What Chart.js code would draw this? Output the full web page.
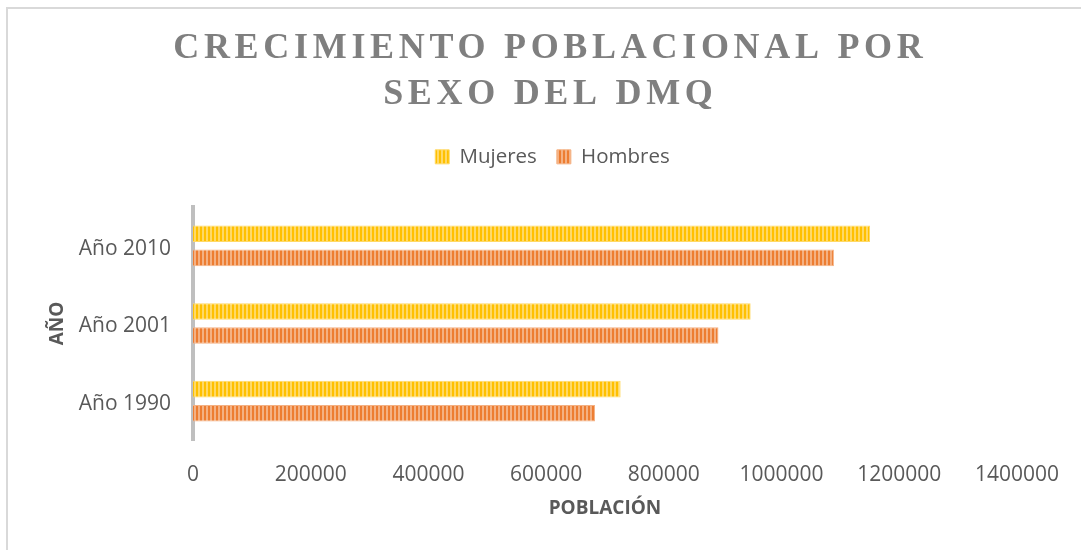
<!DOCTYPE html>
<html><head><meta charset="utf-8">
<script src="https://cdn.jsdelivr.net/npm/chart.js@4.4.1/dist/chart.umd.min.js"></script>
<style>
html,body{margin:0;padding:0;background:#fff;overflow:hidden}
#wrap{position:relative;width:1081px;height:550px}
#frame{position:absolute;left:6px;top:7px;width:1100px;height:600px;border:2px solid #d9d9d9;box-sizing:border-box}
#c{position:absolute;left:0;top:0}
</style></head><body>
<div id="wrap"><div id="frame"></div><canvas id="c" width="1081" height="550"></canvas></div>
<script>
const categories = ['Año 2010', 'Año 2001', 'Año 1990'];
const mujeres = [1150300, 947500, 726600];
const hombres = [1089000, 892800, 683000];
const seriesNames = ['Mujeres', 'Hombres'];
const xMin = 0, xMax = 1400000, xStep = 200000;
const titleLines = ['CRECIMIENTO POBLACIONAL POR', 'SEXO DEL DMQ'];
const xTitle = 'POBLACIÓN';
const yTitle = 'AÑO';

const canvas = document.getElementById('c');
const ctx = canvas.getContext('2d');
function stripe(dark, light) {
  const p = document.createElement('canvas');
  p.width = 4; p.height = 4;
  const g = p.getContext('2d');
  g.fillStyle = light; g.fillRect(0, 0, 4, 4);
  g.fillStyle = dark; g.fillRect(0, 0, 2, 4);
  return ctx.createPattern(p, 'repeat');
}
const yellowPat = stripe('#FFC000', '#FFD966');
const orangePat = stripe('#ED7D31', '#F4B183');

const TEXT = '#595959';
const SANS = "'Open Sans', sans-serif";
const TITLE_SPACING = 4.7;

const layoutFix = {
  id: 'layoutFix',
  afterInit(chart) {
    const lg = chart.legend;
    const of = lg.fit.bind(lg);
    lg.fit = function () {
      of();
      const th = chart.titleBlock ? chart.titleBlock.height : 0;
      this.height = 207 - th;
    };
    const ld = lg.draw.bind(lg);
    lg.draw = function () {
      chart.ctx.save();
      chart.ctx.translate(43, 8);
      ld();
      chart.ctx.restore();
    };
    const tb = chart.titleBlock;
    const od = tb.draw.bind(tb);
    tb.draw = function () {
      chart.ctx.save();
      chart.ctx.letterSpacing = TITLE_SPACING + 'px';
      chart.ctx.translate(38.5 + TITLE_SPACING / 2, 0);
      od();
      chart.ctx.restore();
    };
  }
};

new Chart(canvas, {
  type: 'bar',
  data: {
    labels: categories,
    datasets: [
      { label: seriesNames[0], data: mujeres, backgroundColor: yellowPat, borderColor: '#FFD966', borderWidth: 1 },
      { label: seriesNames[1], data: hombres, backgroundColor: orangePat, borderColor: '#F4B183', borderWidth: 1 }
    ]
  },
  options: {
    indexAxis: 'y',
    responsive: false,
    animation: false,
    devicePixelRatio: 1,
    categoryPercentage: 0.62,
    barPercentage: 0.69,
    layout: { padding: { left: 0, right: 62, top: 0, bottom: 0 } },
    plugins: {
      tooltip: { enabled: false },
      title: {
        display: true,
        text: titleLines,
        color: '#7f7f7f',
        font: { family: "'Liberation Serif', serif", size: 36, weight: 'bold', lineHeight: 1.3 },
        padding: { top: 25, bottom: 0 }
      },
      legend: {
        display: true,
        position: 'top',
        labels: {
          color: TEXT,
          font: { family: SANS, size: 20.5 },
          boxWidth: 14,
          boxHeight: 14,
          padding: 20
        }
      }
    },
    scales: {
      x: {
        type: 'linear',
        min: xMin, max: xMax,
        afterFit(s) { s.height = 110; },
        ticks: {
          stepSize: xStep,
          color: TEXT,
          font: { family: SANS, size: 21 },
          padding: 22,
          maxRotation: 0,
          autoSkip: false,
          callback: v => String(v)
        },
        grid: { display: false, drawTicks: false },
        border: { display: false },
        title: { display: true, text: xTitle, color: TEXT, font: { family: SANS, size: 19, weight: 'bold' }, padding: { top: 30, bottom: 30 } }
      },
      y: {
        type: 'category',
        z: 1,
        afterFit(s) { s.width = 193; },
        ticks: { color: TEXT, font: { family: SANS, size: 21 }, padding: 22, labelOffset: 3 },
        grid: { display: false, drawTicks: false },
        border: { display: true, color: '#bfbfbf', width: 4 },
        title: { display: true, text: yTitle, color: TEXT, font: { family: SANS, size: 19, weight: 'bold' }, padding: { top: 46, bottom: 0 } }
      }
    }
  },
  plugins: [layoutFix]
});
</script>
</body></html>
